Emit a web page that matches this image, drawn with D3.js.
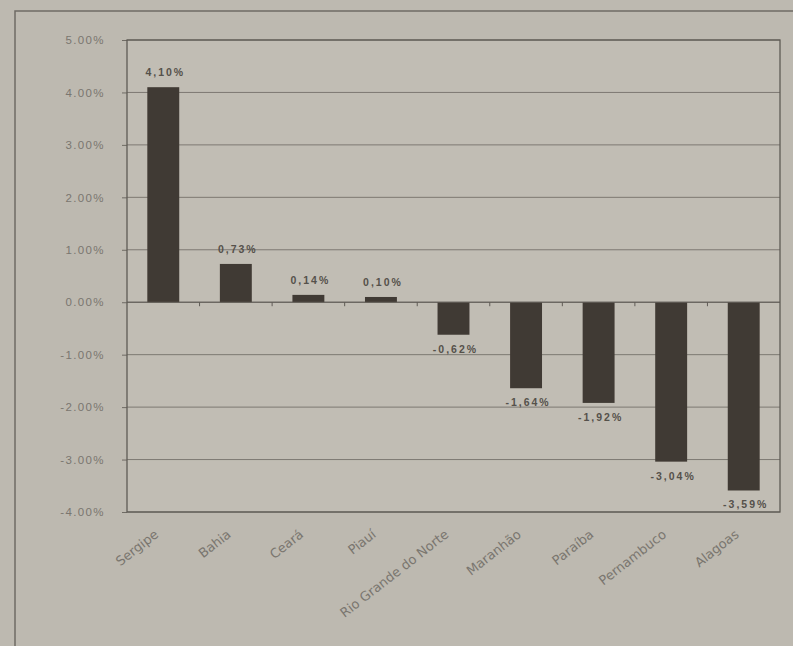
<!DOCTYPE html>
<html><head><meta charset="utf-8">
<script src="https://cdn.jsdelivr.net/npm/d3@7"></script>
<style>
html,body{margin:0;padding:0;background:#bdb9b0;}
svg{display:block;}
</style></head>
<body>
<svg id="c" width="793" height="646"></svg>
<script>
const categories = ["Sergipe","Bahia","Ceará","Piauí","Rio Grande do Norte","Maranhão","Paraíba","Pernambuco","Alagoas"];
const values = [4.10, 0.73, 0.14, 0.10, -0.62, -1.64, -1.92, -3.04, -3.59];
const labels = ["4,10%","0,73%","0,14%","0,10%","-0,62%","-1,64%","-1,92%","-3,04%","-3,59%"];
const yTicks = [5, 4, 3, 2, 1, 0, -1, -2, -3, -4];

const svg = d3.select("#c");
const W = 793, H = 646;
const m = {left:127, right:780, top:40, bottom:512};

// outer frame
svg.append("rect").attr("x",0).attr("y",0).attr("width",W).attr("height",H).attr("fill","#bdb9b0");
svg.append("path").attr("d",`M15,${H} L15,11 L${W},11`).attr("fill","none").attr("stroke","#6f6b64").attr("stroke-width",1.5);

const x = d3.scaleBand().domain(categories).range([m.left, m.right]).paddingInner(0.56).paddingOuter(0.28);
const xb = d3.scaleBand().domain(categories).range([m.left, m.right]);
const y = d3.scaleLinear().domain([-4, 5]).range([m.bottom, m.top]);

// plot area
svg.append("rect").attr("x",m.left).attr("y",m.top).attr("width",m.right-m.left).attr("height",m.bottom-m.top)
  .attr("fill","#c1bdb4");

// gridlines
svg.append("g").selectAll("line").data(yTicks).join("line")
  .attr("x1",m.left).attr("x2",m.right).attr("y1",d=>y(d)).attr("y2",d=>y(d))
  .attr("stroke","#7d7972").attr("stroke-width",1);

// y axis
const yAxis = d3.axisLeft(y).tickValues(yTicks).tickSize(5).tickPadding(17)
  .tickFormat(d => d3.format(".2f")(d).replace("\u2212","-") + "%");
const ga = svg.append("g").attr("transform",`translate(${m.left},0)`).call(yAxis);
ga.select(".domain").remove();
ga.selectAll(".tick line").attr("stroke","#6f6b64");
ga.selectAll(".tick text").attr("fill","#7a766f").attr("font-family","Liberation Sans, Arial, sans-serif")
  .attr("font-size",11.5).attr("letter-spacing","1.4px");

// bars
svg.append("g").selectAll("rect").data(values).join("rect")
  .attr("x",(d,i)=>x(categories[i]))
  .attr("width",x.bandwidth())
  .attr("y",d=>y(Math.max(0,d)))
  .attr("height",d=>Math.abs(y(d)-y(0)))
  .attr("fill","#403a34");

// zero axis with category ticks
svg.append("line").attr("x1",m.left).attr("x2",m.right).attr("y1",y(0)).attr("y2",y(0)).attr("stroke","#5f5b55").attr("stroke-width",1);
svg.append("g").selectAll("line").data(categories.slice(1)).join("line")
  .attr("x1",d=>xb(d)).attr("x2",d=>xb(d)).attr("y1",y(0)).attr("y2",y(0)+4)
  .attr("stroke","#5f5b55");

// plot border
svg.append("rect").attr("x",m.left).attr("y",m.top).attr("width",m.right-m.left).attr("height",m.bottom-m.top)
  .attr("fill","none").attr("stroke","#5f5b55").attr("stroke-width",1.3);

// data labels
svg.append("g").selectAll("text").data(values).join("text")
  .attr("x",(d,i)=>x(categories[i])+x.bandwidth()/2+2)
  .attr("y",d=> d>=0 ? y(d)-11 : y(d)+18)
  .attr("text-anchor","middle")
  .attr("font-family","Liberation Sans, Arial, sans-serif")
  .attr("font-size",10.5).attr("font-weight","bold").attr("letter-spacing","2px")
  .attr("fill","#55514b")
  .text((d,i)=>labels[i]);

// category labels
svg.append("g").selectAll("text").data(categories).join("text")
  .attr("transform",d=>`translate(${xb(d)+xb.bandwidth()/2-4},${m.bottom+24}) rotate(-38)`)
  .attr("text-anchor","end")
  .attr("font-family","DejaVu Sans, Verdana, sans-serif")
  .attr("font-size",13)
  .attr("fill","#7a766f")
  .text(d=>d);
</script>
</body></html>
